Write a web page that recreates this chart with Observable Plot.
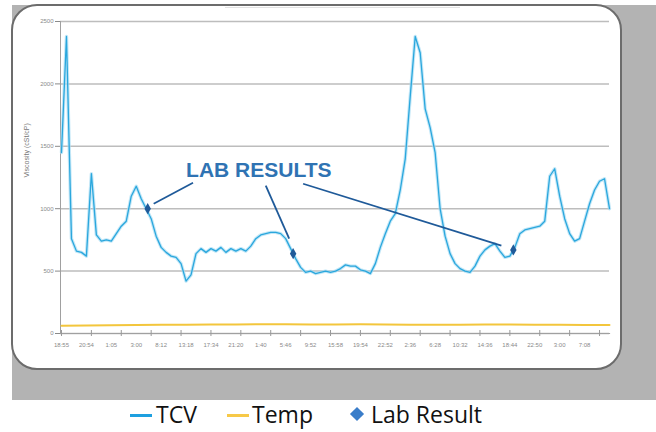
<!DOCTYPE html>
<html><head><meta charset="utf-8">
<script src="https://cdn.jsdelivr.net/npm/d3@7"></script>
<script src="https://cdn.jsdelivr.net/npm/@observablehq/plot@0.6"></script>
<style>
html,body{margin:0;padding:0;background:#fff;width:656px;height:432px;overflow:hidden;}
#stage{position:relative;width:656px;height:432px;}
#gray{position:absolute;left:12px;top:5px;width:644px;height:395px;background:#b3b3b3;}
#card{position:absolute;left:11px;top:4px;width:607px;height:362px;background:#fff;border:2.5px solid #6c6c6c;border-radius:26px;}
#faint{position:absolute;left:225px;top:7px;width:235px;height:1px;background:#e2e2e2;}
#chart{position:absolute;left:0;top:0;}
#legend{position:absolute;left:0;top:400px;width:656px;height:32px;font-family:"Open Sans",sans-serif;font-size:23px;color:#111;}
#legend .sw{position:absolute;top:14px;width:22px;height:3px;}
#legend .tx{position:absolute;top:-2px;line-height:32px;}
#legend .dm{position:absolute;top:9px;width:10px;height:10px;background:#3a7dc9;transform:rotate(45deg);}
</style></head>
<body><div id="stage">
<div id="gray"></div><div id="card"></div><div id="faint"></div>
<div id="chart"></div>
<div id="legend">
  <span class="sw" style="left:130px;background:#1ea0e0"></span><span class="tx" style="left:156px">TCV</span>
  <span class="sw" style="left:227px;background:#f7c948"></span><span class="tx" style="left:252px">Temp</span>
  <span class="dm" style="left:352px"></span><span class="tx" style="left:371px">Lab Result</span>
</div>
</div>
<script>
const tickLabels = ["18:55","20:54","1:05","3:00","8:12","13:18","17:34","21:20","1:40","5:46","9:52","15:58","19:54","22:52","2:36","6:28","10:32","14:36","18:44","22:50","3:00","7:08"];
const yTicks = [0, 500, 1000, 1500, 2000, 2500];
const yTitle = "Viscosity (cSt/cP)";
const tcv = [1450,2380,760,660,650,620,1280,790,740,750,
  740,800,860,900,1100,1180,1080,1000,920,780,
  690,650,620,610,560,420,470,640,680,650,
  680,660,690,650,680,660,680,660,700,760,
  790,800,810,810,800,760,680,600,530,490,
  500,480,490,500,490,500,520,550,540,540,
  510,500,480,560,690,800,900,960,1150,1400,
  1900,2380,2250,1800,1650,1450,1000,780,640,560,
  520,500,490,540,620,670,700,720,660,610,
  620,690,800,830,840,850,860,900,1260,1320,
  1100,920,800,740,760,900,1040,1150,1220,1240,1000];
const temp = [62,64,66,68,70,70,72,72,74,74,72,72,74,72,70,70,70,72,72,70,70,68,68];
const labIndex = [17.3, 46.5, 90.7];
const labValue = [1000, 640, 670];
const annotText = "LAB RESULTS";
const annotIndex = 39.6, annotValue = 1304;
const arrowFromIndex = [26.4, 41, 48.5];
const arrowFromValue = [1208, 1184, 1200];
const arrowToIndex = [18.5, 45.7, 88.3];
const arrowToValue = [1040, 760, 704];

const N = tcv.length;
const rows = tcv.map((v, i) => ({i, v}));
const tempRows = temp.map((v, k) => ({i: k * 5, v}));
const labRows = labIndex.map((x, k) => ({x, y: labValue[k]}));
const arrows = arrowFromIndex.map((x, k) => ({x1: x, y1: arrowFromValue[k], x2: arrowToIndex[k], y2: arrowToValue[k]}));
const labelTicks = tickLabels.map((_, k) => k * 5);
const minorTicks = d3.range(0, N, 6);

const chart = Plot.plot({
  width: 656, height: 400,
  marginLeft: 60, marginRight: 47, marginTop: 21, marginBottom: 67,
  style: {background: "transparent", fontFamily: "Liberation Sans, Arial, sans-serif"},
  x: {domain: [-0.2, N - 1], label: null},
  y: {domain: [0, 2500], label: null},
  marks: [
    Plot.gridY(yTicks, {stroke: "#bdbdbd", strokeOpacity: 1, strokeWidth: 1.5}),
    Plot.frame({anchor: "left", stroke: "#a0a0a0"}),
    Plot.frame({anchor: "bottom", stroke: "#a0a0a0", strokeWidth: 1.2}),
    Plot.axisY(yTicks, {tickSize: 5, tickPadding: 2, tickFormat: d => String(d), fontSize: 6, color: "#8a8a8a", label: null}),
    Plot.text([yTitle], {frameAnchor: "left", rotate: -90, dx: -34, fontSize: 7, fill: "#777"}),
    Plot.axisX(minorTicks, {tickSize: 6, dy: -3, tickFormat: () => "", color: "#999", label: null}),
    Plot.axisX(labelTicks, {tickSize: 0, tickPadding: 9, tickFormat: i => tickLabels[i / 5], fontSize: 6, color: "#8a8a8a", label: null}),
    Plot.line(rows, {x: "i", y: "v", stroke: "#a9ddf3", strokeWidth: 3.4, strokeOpacity: 0.7}),
    Plot.line(rows, {x: "i", y: "v", stroke: "#2aa7dd", strokeWidth: 1.3}),
    Plot.line(tempRows, {x: "i", y: "v", stroke: "#f3c63c", strokeWidth: 2}),
    Plot.link(arrows, {x1: "x1", y1: "y1", x2: "x2", y2: "y2", stroke: "#1f5a99", strokeWidth: 1.8}),
    Plot.dot(labRows, {x: "x", y: "y", symbol: "diamond", r: 3.4, fill: "#1f5a99", stroke: "none"}),
    Plot.text([{x: annotIndex, y: annotValue, t: annotText}], {x: "x", y: "y", text: "t", fontSize: 21, fontWeight: "bold", fill: "#2f73b3", fontFamily: "Liberation Sans, Arial, sans-serif"})
  ]
});
document.getElementById("chart").append(chart);
</script>
</body></html>
